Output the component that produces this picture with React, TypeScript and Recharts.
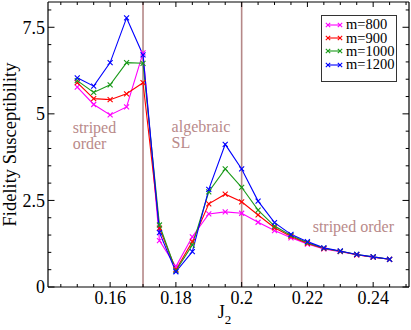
import React from "react";
import { LineChart, Line, XAxis, YAxis, ReferenceLine, ReferenceDot, Legend } from "recharts";

const j2 = [0.15, 0.155, 0.16, 0.165, 0.17, 0.175, 0.18, 0.185, 0.19, 0.195, 0.2, 0.205, 0.21, 0.215, 0.22, 0.225, 0.23, 0.235, 0.24, 0.245];
const m800 = [5.77, 5.27, 4.97, 5.2, 6.76, 1.34, 0.59, 1.45, 2.11, 2.17, 2.13, 1.87, 1.63, 1.42, 1.24, 1.1, 1.02, 0.93, 0.86, 0.8];
const m900 = [5.9, 5.44, 5.41, 5.58, 5.9, 1.7, 0.5, 1.31, 2.4, 2.68, 2.46, 2.08, 1.71, 1.46, 1.26, 1.11, 1.03, 0.93, 0.86, 0.8];
const m1000 = [5.96, 5.62, 5.84, 6.48, 6.46, 1.79, 0.47, 1.21, 2.75, 3.41, 2.88, 2.22, 1.76, 1.49, 1.28, 1.12, 1.03, 0.94, 0.87, 0.8];
const m1200 = [6.04, 5.8, 6.48, 7.77, 6.7, 1.57, 0.44, 1.02, 2.82, 4.12, 3.41, 2.48, 1.86, 1.52, 1.31, 1.13, 1.04, 0.94, 0.87, 0.8];

const xTicks = [0.145, 0.15, 0.155, 0.16, 0.165, 0.17, 0.175, 0.18, 0.185, 0.19, 0.195, 0.2, 0.205, 0.21, 0.215, 0.22, 0.225, 0.23, 0.235, 0.24, 0.245, 0.25];
const xLabels = [0.16, 0.18, 0.2, 0.22, 0.24];
const yTicks = [0, 0.5, 1, 1.5, 2, 2.5, 3, 3.5, 4, 4.5, 5, 5.5, 6, 6.5, 7, 7.5, 8];
const yLabels = [0, 2.5, 5, 7.5];
const phaseBounds = [0.17, 0.2];

const notes = [
  { x: 0.1486, y: 4.46, lines: ["striped", "order"] },
  { x: 0.1787, y: 4.48, lines: ["algebraic", "SL"] },
  { x: 0.2216, y: 1.6, lines: ["striped order"] },
];

const series = [
  { key: "m800", name: "m=800", color: "#ff00ff", values: m800 },
  { key: "m900", name: "m=900", color: "#ff0000", values: m900 },
  { key: "m1000", name: "m=1000", color: "#1a9a1a", values: m1000 },
  { key: "m1200", name: "m=1200", color: "#0000ff", values: m1200 },
];

const data = j2.map((x, i) => {
  const row: Record<string, number> = { x };
  series.forEach((s) => (row[s.key] = s.values[i]));
  return row;
});

const FONT = "'Liberation Serif', 'Times New Roman', serif";
const NOTE_COLOR = "#b98a8a";

const isIn = (list: number[], v: number) => list.some((t) => Math.abs(t - v) < 1e-6);

const Cross = ({ cx, cy, stroke, s = 2.5 }: any) =>
  cx == null || cy == null ? null : (
    <path
      d={`M${cx - s},${cy - s}L${cx + s},${cy + s}M${cx - s},${cy + s}L${cx + s},${cy - s}`}
      stroke={stroke}
      strokeWidth={1.1}
      fill="none"
    />
  );

// ticks drawn inward, labels only on the major values
const BottomTick = ({ x, y, payload }: any) => {
  const major = isIn(xLabels, payload.value);
  return (
    <g>
      <line x1={x} x2={x} y1={y} y2={y - (major ? 5 : 3)} stroke="#000" />
      {major && (
        <text x={x} y={y + 17} textAnchor="middle" fontFamily={FONT} fontSize={18} fill="#000">
          {String(Number(payload.value.toFixed(3)))}
        </text>
      )}
    </g>
  );
};

const TopTick = ({ x, y, payload }: any) => {
  const major = isIn(xLabels, payload.value);
  return <line x1={x} x2={x} y1={y} y2={y + (major ? 5 : 3)} stroke="#000" />;
};

const LeftTick = ({ x, y, payload }: any) => {
  const major = isIn(yLabels, payload.value);
  return (
    <g>
      <line x1={x} x2={x + (major ? 6.5 : 3.3)} y1={y} y2={y} stroke="#000" />
      {major && (
        <text x={x - 3} y={y} dy="0.35em" textAnchor="end" fontFamily={FONT} fontSize={18} fill="#000">
          {payload.value}
        </text>
      )}
    </g>
  );
};

const RightTick = ({ x, y, payload }: any) => {
  const major = isIn(yLabels, payload.value);
  return <line x1={x} x2={x - (major ? 6.5 : 3.3)} y1={y} y2={y} stroke="#000" />;
};

const XTitle = ({ viewBox }: any) => {
  const cx = viewBox.x + viewBox.width / 2;
  return (
    <text x={cx - 4} y={viewBox.y + 31} fontFamily={FONT} fontSize={18} fill="#000" textAnchor="middle">
      <tspan>J</tspan>
      <tspan fontSize={13} dy={6}>2</tspan>
    </text>
  );
};

const YTitle = ({ viewBox }: any) => {
  const cx = viewBox.x + 16;
  const cy = viewBox.y + viewBox.height / 2;
  return (
    <text
      x={cx}
      y={cy}
      transform={`rotate(-90 ${cx} ${cy})`}
      textAnchor="middle"
      fontFamily={FONT}
      fontSize={18.5}
      fill="#000"
    >
      Fidelity Susceptibility
    </text>
  );
};

const NoteText = ({ cx, cy, lines }: any) => (
  <text x={cx} y={cy} fontFamily={FONT} fontSize={16} fill={NOTE_COLOR}>
    {lines.map((l: string, i: number) => (
      <tspan key={l} x={cx} dy={i === 0 ? 0 : 16}>
        {l}
      </tspan>
    ))}
  </text>
);

const LegendBox = ({ payload }: any) => {
  const items = series
    .map((s) => (payload || []).find((p: any) => p.value === s.name))
    .filter(Boolean);
  return (
    <div
      style={{
        boxSizing: "border-box",
        width: 76,
        height: 67,
        border: "1px solid #333",
        background: "#fff",
        padding: "2px 0 0 3px",
        fontFamily: FONT,
        fontSize: 14.5,
        color: "#000",
      }}
    >
      {items.map((p: any) => (
        <div key={p.value} style={{ display: "flex", alignItems: "center", height: 13.4 }}>
          <svg width={18} height={10} style={{ flex: "none" }}>
            <line x1={2} x2={16} y1={5} y2={5} stroke={p.color} strokeWidth={1.1} />
            <Cross cx={3} cy={5} stroke={p.color} s={2.2} />
            <Cross cx={15} cy={5} stroke={p.color} s={2.2} />
          </svg>
          <span style={{ marginLeft: 3, lineHeight: "13px", fontFamily: FONT }}>{p.value}</span>
        </div>
      ))}
    </div>
  );
};

export default function App() {
  return (
    <div style={{ position: "absolute", left: 0, top: 0, background: "#fff" }}>
      <LineChart width={411} height={330} data={data} margin={{ top: 2, right: 2, bottom: 0, left: 0 }}>
        <XAxis
          xAxisId="b"
          dataKey="x"
          type="number"
          domain={[0.1411, 0.2509]}
          allowDataOverflow
          ticks={xTicks}
          interval={0}
          height={43}
          tickLine={false}
          tickSize={0}
          tickMargin={0}
          axisLine={{ stroke: "#000", strokeWidth: 1.2 }}
          tick={<BottomTick />}
          label={<XTitle />}
        />
        <XAxis
          xAxisId="t"
          dataKey="x"
          type="number"
          orientation="top"
          mirror
          domain={[0.1411, 0.2509]}
          allowDataOverflow
          ticks={xTicks}
          interval={0}
          height={10}
          tickLine={false}
          tickSize={0}
          tickMargin={0}
          axisLine={{ stroke: "#000", strokeWidth: 1.2 }}
          tick={<TopTick />}
        />
        <YAxis
          yAxisId="l"
          type="number"
          domain={[0, 8.23]}
          allowDataOverflow
          ticks={yTicks}
          interval={0}
          width={48}
          tickLine={false}
          tickSize={0}
          tickMargin={0}
          axisLine={{ stroke: "#000", strokeWidth: 1.2 }}
          tick={<LeftTick />}
          label={<YTitle />}
        />
        <YAxis
          yAxisId="r"
          type="number"
          orientation="right"
          mirror
          domain={[0, 8.23]}
          allowDataOverflow
          ticks={yTicks}
          interval={0}
          width={10}
          tickLine={false}
          tickSize={0}
          tickMargin={0}
          axisLine={{ stroke: "#000", strokeWidth: 1.2 }}
          tick={<RightTick />}
        />
        {phaseBounds.map((b) => (
          <ReferenceLine key={b} xAxisId="b" yAxisId="l" x={b} stroke="#b58888" strokeWidth={1.6} />
        ))}
        {notes.map((n) => (
          <ReferenceDot
            key={n.lines.join()}
            xAxisId="b"
            yAxisId="l"
            x={n.x}
            y={n.y}
            r={0}
            ifOverflow="visible"
            shape={(p: any) => <NoteText cx={p.cx} cy={p.cy} lines={n.lines} />}
          />
        ))}
        {series.map((s) => (
          <Line
            key={s.key}
            xAxisId="b"
            yAxisId="l"
            dataKey={s.key}
            name={s.name}
            stroke={s.color}
            strokeWidth={1.1}
            isAnimationActive={false}
            dot={(p: any) => <Cross key={`${s.key}-${p.index}`} cx={p.cx} cy={p.cy} stroke={s.color} />}
            activeDot={false}
          />
        ))}
        <Legend
          layout="vertical"
          align="center"
          verticalAlign="middle"
          wrapperStyle={{ left: 321, top: 15, width: 76, height: 67 }}
          content={<LegendBox />}
        />
      </LineChart>
    </div>
  );
}
